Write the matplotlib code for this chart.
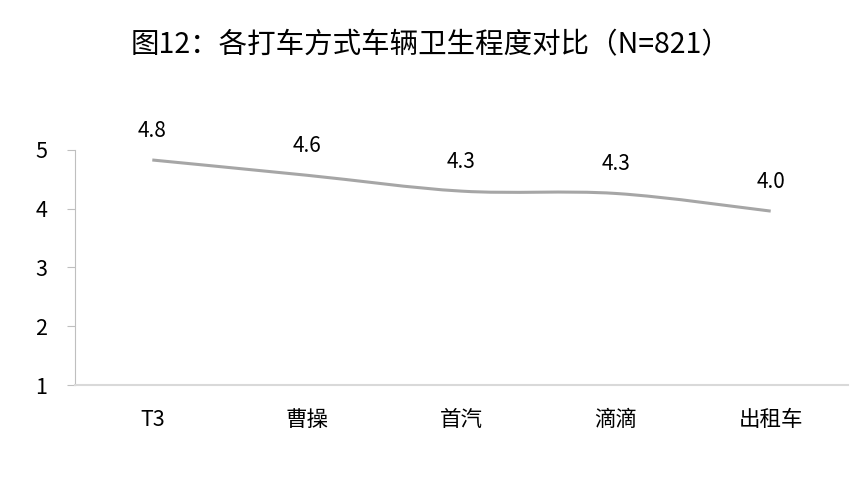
import numpy as np
import matplotlib.pyplot as plt
from matplotlib.path import Path
from matplotlib.patches import PathPatch

plt.rcParams['font.family'] = ['Noto Sans CJK SC', 'DejaVu Sans']

categories = ['T3', '曹操', '首汽', '滴滴', '出租车']
scores = [4.83, 4.57, 4.30, 4.26, 3.96]
title = '图12：各打车方式车辆卫生程度对比（N=821）'

fig = plt.figure(figsize=(8.54, 4.83), dpi=100)
ax = fig.add_axes([75/854, 1 - 385/483, 773/854, 235/483])

x = np.arange(len(categories))
y = np.array(scores)

# smoothed line (cardinal spline drawn as bezier segments)
verts = [(x[0], y[0])]
codes = [Path.MOVETO]
n = len(x)
for i in range(n - 1):
    p0 = (x[max(i - 1, 0)], y[max(i - 1, 0)])
    p1 = (x[i], y[i])
    p2 = (x[i + 1], y[i + 1])
    p3 = (x[min(i + 2, n - 1)], y[min(i + 2, n - 1)])
    c1 = (p1[0] + (p2[0] - p0[0]) / 6, p1[1] + (p2[1] - p0[1]) / 6)
    c2 = (p2[0] - (p3[0] - p1[0]) / 6, p2[1] - (p3[1] - p1[1]) / 6)
    verts += [c1, c2, p2]
    codes += [Path.CURVE4] * 3
ax.add_patch(PathPatch(Path(verts, codes), facecolor='none', edgecolor='#a6a6a6',
                       lw=2.2, capstyle='butt'))

for xi, yi in zip(x, y):
    ax.annotate(f'{yi:.1f}', (xi, yi), xytext=(0, 21), textcoords='offset points',
                ha='center', va='center', fontsize=15, color='black')

ax.set_xlim(-0.5, n - 0.5)
ax.set_ylim(1, 5)
ax.set_yticks([1, 2, 3, 4, 5])
ax.set_xticks(x)
ax.set_xticklabels(categories)
ax.tick_params(axis='y', length=6, color='#bfbfbf', labelsize=15.5, pad=14, labelcolor='black')
ax.tick_params(axis='x', length=0, labelsize=15.5, pad=17, labelcolor='black')
for s in ['top', 'right']:
    ax.spines[s].set_visible(False)
ax.spines['left'].set_color('#bfbfbf')
ax.spines['bottom'].set_color('#d9d9d9')
ax.spines['bottom'].set_linewidth(1.5)

fig.text(431/854, 1 - 45/483, title, ha='center', va='center', fontsize=20.5, color='black')

fig.savefig('out.png', dpi=100)
